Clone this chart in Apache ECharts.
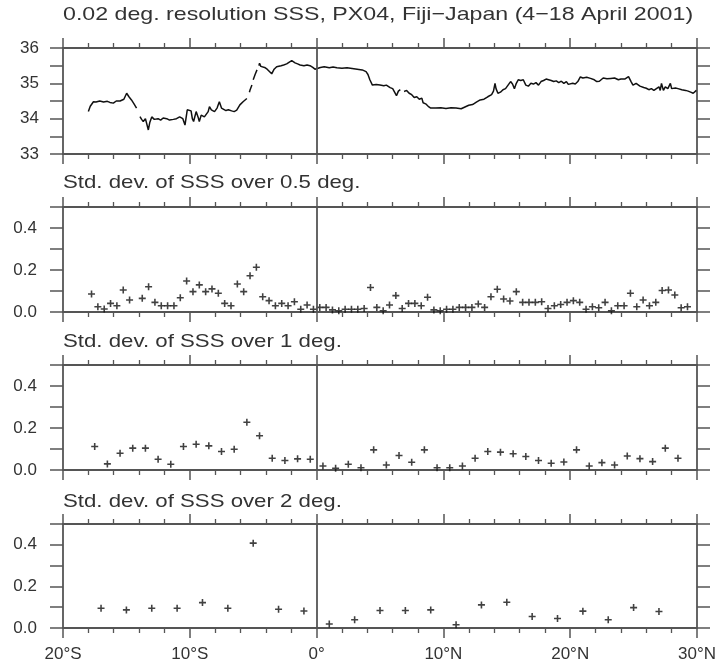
<!DOCTYPE html>
<html><head><meta charset="utf-8">
<script src="https://cdn.jsdelivr.net/npm/echarts@6/dist/echarts.min.js"></script>
<style>html,body{margin:0;padding:0;background:#fff}#c{width:719px;height:665px}</style>
</head><body><div id="c"></div>
<script>
// ---- data ----
const lonLabels = {'-20':'20°S','-10':'10°S','0':'0°','10':'10°N','20':'20°N','30':'30°N'};
const titleMain = '0.02 deg. resolution SSS, PX04, Fiji\u2212Japan (4\u221218 April 2001)';
const subTitles = ['Std. dev. of SSS over 0.5 deg.','Std. dev. of SSS over 1 deg.','Std. dev. of SSS over 2 deg.'];

const sssLon = [-18.0,-17.85,-17.6,-17.4,-17.1,-16.8,-16.5,-16.3,-16.03,-15.8,-15.5,-15.2,-14.98,-14.8,-14.6,-14.4,-14.2,-14.05,
-13.93,-13.8,-13.67,-13.5,-13.4,-13.27,-13.15,-13.0,-12.8,-12.5,-12.3,-12.1,-11.82,-11.6,-11.3,-11.05,-10.8,-10.55,-10.38,-10.2,-10.05,-9.9,-9.8,-9.7,-9.5,-9.35,-9.25,-9.1,-9.0,-8.85,-8.7,-8.55,-8.45,-8.3,-8.05,-7.85,-7.67,-7.5,-7.35,-7.15,-6.96,-6.7,-6.5,-6.3,-6.05,-5.9,-5.8,-5.65,-5.5,-5.4,
-5.3,-5.25,-5.1,-5.05,-5.0,-4.85,-4.7,-4.62,-4.55,-4.5,-4.4,-4.3,-4.1,-3.9,-3.75,-3.54,-3.35,-3.15,-2.8,-2.6,-2.36,-2.15,-1.96,-1.7,-1.5,-1.3,-1.0,-0.75,-0.52,-0.3,-0.13,0.0,
0.3,0.6,1.0,1.3,1.6,2.0,2.4,2.8,3.2,3.6,3.9,4.05,4.2,4.4,4.7,5.0,5.3,5.5,5.8,6.0,6.15,6.3,6.45,6.6,6.75,
6.9,7.1,7.3,7.5,7.7,7.9,8.1,8.3,8.4,8.6,8.8,9.0,9.4,9.8,10.2,10.6,11.0,11.4,11.7,12.0,12.3,12.6,12.9,13.2,13.5,13.8,13.95,14.07,14.15,14.3,14.5,14.7,14.9,15.1,15.3,15.45,15.6,15.75,15.9,16.1,16.3,16.5,16.7,16.9,17.1,17.3,17.5,17.7,17.9,18.1,18.3,18.5,18.7,18.9,19.1,19.3,19.5,19.7,19.85,20.0,20.2,20.4,20.6,20.8,21.0,21.3,21.6,21.9,22.1,22.3,22.6,22.9,23.2,23.5,23.8,24.0,24.3,24.6,24.8,24.95,25.2,25.5,25.8,26.0,26.2,26.4,26.6,26.8,27.0,27.1,27.2,27.35,27.5,27.7,27.9,28.0,28.1,28.3,28.5,28.8,29.1,29.3,29.5,29.7,29.85,29.95];
const sssVal = [34.2,34.35,34.48,34.47,34.5,34.47,34.49,34.46,34.44,34.5,34.5,34.55,34.72,34.62,34.53,34.42,34.3,null,
34.06,33.98,33.92,34.0,33.95,33.68,33.9,34.05,33.98,34.0,33.96,34.02,34.0,33.96,33.98,34.0,34.05,34.0,33.82,34.25,34.22,34.22,34.0,33.92,34.2,34.05,33.92,34.1,34.15,34.05,34.0,34.2,34.34,34.25,34.2,34.3,34.48,34.3,34.25,34.23,34.25,34.22,34.2,34.24,34.39,34.42,34.48,34.5,34.57,null,
34.75,34.81,34.95,null,35.1,35.25,35.38,null,35.5,35.57,35.48,35.43,35.45,35.4,35.42,35.27,35.4,35.47,35.5,35.52,35.55,35.6,35.64,35.58,35.55,35.52,35.5,35.52,35.5,35.45,35.4,35.4,
35.45,35.47,35.44,35.46,35.44,35.43,35.44,35.42,35.4,35.38,35.33,35.25,35.1,34.95,34.97,34.95,34.93,34.95,34.88,34.85,34.75,34.65,34.78,34.82,null,
34.77,34.8,34.72,34.68,34.6,34.62,34.55,34.58,34.45,34.42,34.35,34.3,34.3,34.31,34.29,34.31,34.3,34.28,34.33,34.38,34.4,34.47,34.53,34.55,34.62,34.68,34.78,35.0,34.85,34.72,34.75,34.82,34.85,34.95,35.05,34.98,34.85,35.0,35.1,35.08,35.1,34.95,34.92,35.0,34.98,35.02,34.95,35.05,35.08,35.12,35.1,35.08,35.05,35.07,35.02,35.06,35.0,35.05,34.97,35.02,35.0,34.98,35.05,35.18,35.15,35.17,35.14,35.1,35.05,35.06,35.15,35.13,35.14,35.15,35.1,35.12,35.12,35.19,35.05,34.95,35.0,34.92,34.88,34.86,34.82,34.85,34.8,34.85,34.9,34.8,35.0,34.8,34.9,34.85,35.0,34.85,34.8,34.87,34.85,34.82,34.8,34.78,34.75,34.72,34.67,34.8];

const sd05Lon = [-17.75,-17.25,-16.75,-16.25,-15.75,-15.25,-14.75,-13.75,-13.25,-12.75,-12.25,-11.75,-11.25,-10.75,-10.25,-9.75,-9.25,-8.75,-8.25,-7.75,-7.25,-6.75,-6.25,-5.75,-5.25,-4.75,-4.25,-3.75,-3.25,-2.75,-2.25,-1.75,-1.25,-0.75,-0.25,
0.25,0.75,1.25,1.75,2.25,2.75,3.25,3.75,4.25,4.75,5.25,5.75,6.25,6.75,7.25,7.75,8.25,8.75,9.25,9.75,10.25,10.75,11.25,11.75,12.25,12.75,13.25,13.75,14.25,14.75,15.25,15.75,16.25,16.75,17.25,17.75,18.25,18.75,19.25,19.75,20.25,20.75,21.25,21.75,22.25,22.75,23.25,23.75,24.25,24.75,25.25,25.75,26.25,26.75,27.25,27.75,28.25,28.75,29.25];
const sd05Val = [0.086,0.025,0.014,0.041,0.03,0.105,0.057,0.065,0.12,0.046,0.03,0.03,0.03,0.068,0.148,0.097,0.129,0.097,0.11,0.089,0.041,0.03,0.133,0.097,0.173,0.213,0.073,0.054,0.03,0.041,0.03,0.049,0.013,0.033,0.013,
0.022,0.022,0.01,0.006,0.013,0.013,0.013,0.017,0.117,0.022,0.006,0.033,0.078,0.017,0.041,0.041,0.03,0.07,0.01,0.006,0.013,0.013,0.022,0.022,0.022,0.038,0.022,0.073,0.108,0.062,0.052,0.097,0.046,0.046,0.046,0.049,0.017,0.03,0.036,0.046,0.054,0.046,0.013,0.025,0.02,0.046,0.006,0.03,0.03,0.089,0.025,0.057,0.03,0.046,0.102,0.105,0.081,0.02,0.025];

const sd1Lon = [-17.5,-16.5,-15.5,-14.5,-13.5,-12.5,-11.5,-10.5,-9.5,-8.5,-7.5,-6.5,-5.5,-4.5,-3.5,-2.5,-1.5,-0.5,0.5,1.5,2.5,3.5,4.5,5.5,6.5,7.5,8.5,9.5,10.5,11.5,12.5,13.5,14.5,15.5,16.5,17.5,18.5,19.5,20.5,21.5,22.5,23.5,24.5,25.5,26.5,27.5,28.5];
const sd1Val = [0.112,0.029,0.08,0.104,0.104,0.051,0.027,0.112,0.123,0.115,0.088,0.099,0.227,0.163,0.056,0.045,0.053,0.051,0.019,0.008,0.027,0.011,0.096,0.024,0.069,0.037,0.096,0.011,0.011,0.019,0.056,0.088,0.085,0.077,0.064,0.045,0.032,0.038,0.096,0.019,0.035,0.024,0.067,0.054,0.04,0.104,0.056];

const sd2Lon = [-17,-15,-13,-11,-9,-7,-5,-3,-1,1,3,5,7,9,11,13,15,17,19,21,23,25,27];
const sd2Val = [0.095,0.087,0.095,0.095,0.122,0.095,0.408,0.09,0.082,0.019,0.04,0.084,0.084,0.087,0.016,0.111,0.124,0.055,0.046,0.081,0.04,0.098,0.079];

// ---- layout ----
const grids = [
  {left:63, right:22, top:48, height:106},
  {left:63, right:22, top:207, height:105},
  {left:63, right:22, top:365, height:105},
  {left:63, right:22, top:524, height:104}
];
const axisColor = '#555';
const txtColor = '#333';
const FONT = 'Liberation Sans';
const TICKFS = 17;

const xAxes = [], yAxes = [];
grids.forEach((g, i) => {
  ['bottom','top'].forEach(pos => {
    xAxes.push({
      type:'value', gridIndex:i, position:pos, min:-20, max:30, interval:10,
      axisLine:{show:true, onZero:false, lineStyle:{color:axisColor, width:1.8}},
      axisTick:{show:true, length:10, lineStyle:{color:axisColor, width:1.5}},
      minorTick:{show:true, splitNumber:5, length:5, lineStyle:{color:axisColor, width:1.3}},
      splitLine:{show:false},
      axisLabel:{show: (i===3 && pos==='bottom'), margin:18, fontSize:TICKFS, fontFamily:FONT, color:txtColor,
        formatter: v => lonLabels[String(Math.round(v))] || ''}
    });
  });
  const isTop = i===0;
  ['left','right'].forEach(pos => {
    yAxes.push({
      type:'value', gridIndex:i, position:pos,
      min: isTop?33:0, max: isTop?36:0.5, interval: isTop?0.5:0.1,
      axisLine:{show:true, onZero:false, lineStyle:{color:axisColor, width:1.8}},
      axisTick:{show:true, length:13, lineStyle:{color:axisColor, width:1.5}},
      splitLine:{show:false},
      axisLabel:{show: pos==='left', margin: isTop?24:26, fontSize:TICKFS, fontFamily:FONT, color:txtColor,
        formatter: v => {
          if (isTop) { return Math.abs(v-Math.round(v))<1e-6 ? String(Math.round(v)) : ''; }
          const k = Math.round(v*10);
          return (k%2===0 && k<5) ? (k/10).toFixed(1) : '';
        }}
    });
  });
});

const zeroLine = {
  silent:true, symbol:['none','none'], animation:false,
  label:{show:false},
  lineStyle:{color:axisColor, width:1.8, type:'solid'},
  data:[{xAxis:0}]
};
const plusSym = 'path://M-0.9,-4L0.9,-4L0.9,-0.9L4,-0.9L4,0.9L0.9,0.9L0.9,4L-0.9,4L-0.9,0.9L-4,0.9L-4,-0.9L-0.9,-0.9Z';
function scatter(idx, lon, val) {
  return {
    type:'scatter', xAxisIndex: idx*2, yAxisIndex: idx*2,
    data: lon.map((x,k)=>[x, val[k]]),
    symbol: plusSym, symbolSize: 7,
    itemStyle:{color:'#111'},
    markLine: zeroLine, animation:false
  };
}

const TFONT = '19px "'+FONT+'"';
function txt(t, y, sx) {
  return {type:'text', x:63, y:y, scaleX:sx, style:{text:t, font:TFONT, fill:txtColor, align:'left', verticalAlign:'middle'}};
}
const graphics = [ txt(titleMain, 15, 1.22), txt(subTitles[0], 183, 1.17), txt(subTitles[1], 342, 1.17), txt(subTitles[2], 502, 1.17) ];

const chart = echarts.init(document.getElementById('c'), null, {renderer:'canvas'});
chart.setOption({
  animation:false,
  backgroundColor:'#fff',
  grid: grids,
  xAxis: xAxes,
  yAxis: yAxes,
  graphic: graphics,
  series: [
    {type:'line', xAxisIndex:0, yAxisIndex:0, data: sssLon.map((x,k)=>[x, sssVal[k]]),
     showSymbol:false, connectNulls:false, lineStyle:{color:'#111', width:1.5}, markLine: zeroLine},
    scatter(1, sd05Lon, sd05Val),
    scatter(2, sd1Lon, sd1Val),
    scatter(3, sd2Lon, sd2Val)
  ]
});
</script></body></html>
